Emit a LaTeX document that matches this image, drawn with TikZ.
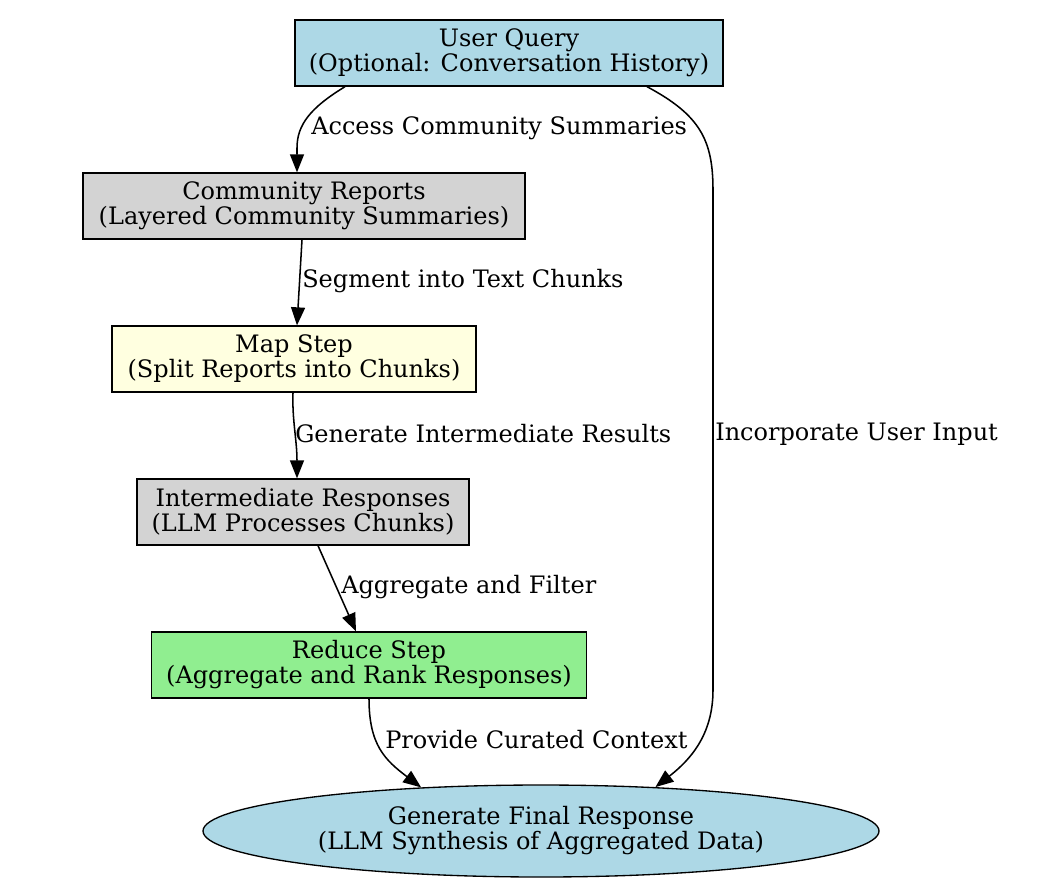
\documentclass[tikz,border=0pt]{standalone}
\usepackage{fontspec}
\setmainfont{DejaVu Serif}
\usetikzlibrary{arrows.meta,shapes.geometric,calc}
\definecolor{gvblue}{HTML}{ADD8E6}
\definecolor{gvgrey}{HTML}{D3D3D3}
\definecolor{gvyellow}{HTML}{FFFFE0}
\definecolor{gvgreen}{HTML}{90EE90}
\tikzset{
  box/.style={draw=black, line width=1pt, rectangle, inner sep=0pt, align=center, font=\gvfont},
  edgelabel/.style={anchor=west, inner sep=0pt, font=\gvfont},
  conn/.style={draw=black, line width=1.15pt, -{Triangle[length=13.5pt,width=10.5pt]}},
}
\newcommand{\gvfont}{\fontsize{18pt}{18.75pt}\selectfont}
\begin{document}
\begin{tikzpicture}[x=0.75pt,y=-0.75pt]
\useasboundingbox (0,0) rectangle (1042,890);
\node[box, fill=gvblue, minimum width=428*0.75pt, minimum height=66*0.75pt] (uq) at (509,53) {User Query\\(Optional: Conversation History)};
\node[box, fill=gvgrey, minimum width=442*0.75pt, minimum height=66*0.75pt] (cr) at (304,206) {Community Reports\\(Layered Community Summaries)};
\node[box, fill=gvyellow, minimum width=364*0.75pt, minimum height=66*0.75pt] (ms) at (294,359) {Map Step\\(Split Reports into Chunks)};
\node[box, fill=gvgrey, minimum width=332*0.75pt, minimum height=66*0.75pt] (ir) at (303,512) {Intermediate Responses\\(LLM Processes Chunks)};
\node[box, fill=gvgreen, minimum width=435*0.75pt, minimum height=66*0.75pt] (rs) at (369,665) {Reduce Step\\(Aggregate and Rank Responses)};
\node[box, ellipse, fill=gvblue, minimum width=676*0.75pt, minimum height=92*0.75pt] (fr) at (541,831) {Generate Final Response\\(LLM Synthesis of Aggregated Data)};

\draw[conn] ($(uq.south)+(-164,0)$) .. controls (310,108) and (297,125) .. (297,148) -- ($(cr.north)+(-7,0)$);
\node[edgelabel] (l1) at (311,128) {Access Community Summaries};

\draw[conn] ($(cr.south)+(-2,0)$) -- ($(ms.north)+(3,0)$);
\node[edgelabel] (l2) at (302,281) {Segment into Text Chunks};

\draw[conn] ($(ms.south)+(-1,0)$) .. controls (292,420) and (297,440) .. ($(ir.north)+(-6,0)$);
\node[edgelabel] (l3) at (295,434) {Generate Intermediate Results};

\draw[conn] ($(ir.south)+(15,0)$) -- ($(rs.north)+(-13,0)$);
\node[edgelabel] (l4) at (341,587) {Aggregate and Filter};

\draw[conn] (rs.south) .. controls (369,745) and (385,760) .. (fr.160);
\node[edgelabel] (l5) at (385,740) {Provide Curated Context};

\draw[conn] ($(uq.south)+(138,0)$) .. controls (700,115) and (713,140) .. (713,190) -- (713,690) .. controls (713,735) and (690,760) .. (fr.21);
\node[edgelabel] (l6) at (715,434) {Incorporate User Input};
\end{tikzpicture}
\end{document}
